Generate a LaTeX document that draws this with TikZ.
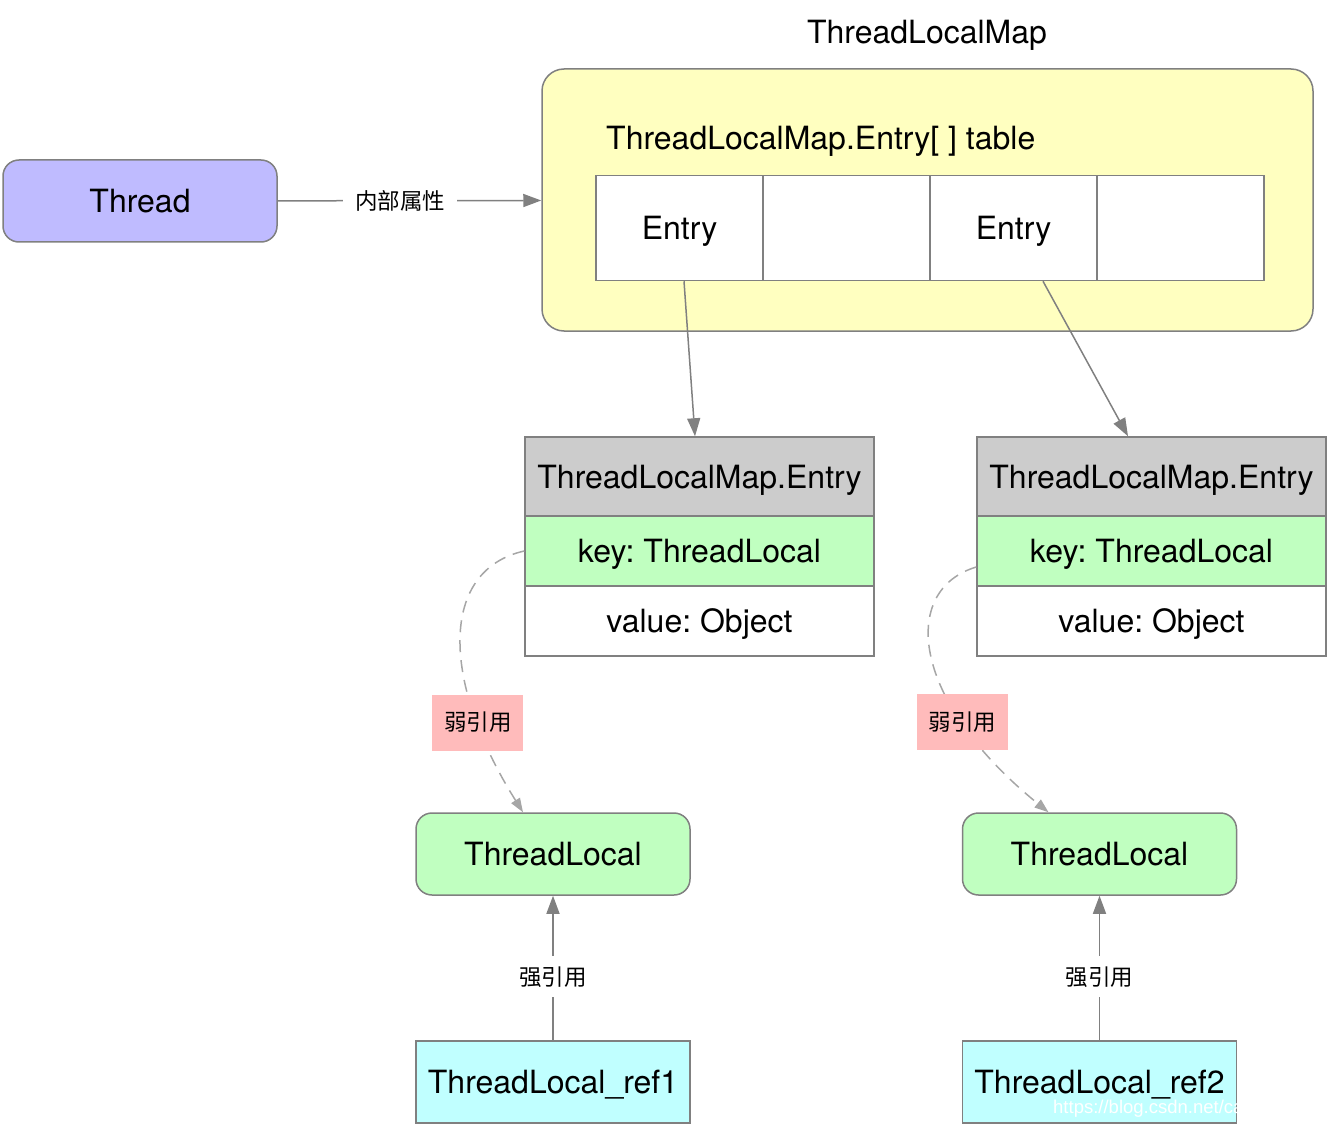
\documentclass[tikz,border=0pt]{standalone}
\usepackage{fontspec}
\setmainfont{TeX Gyre Heros}
\newfontfamily\cjk{Noto Sans CJK SC}
\newfontfamily\markfont{Liberation Sans}
\usetikzlibrary{arrows.meta,positioning}
\frenchspacing

\begin{document}
\begin{tikzpicture}[x=1pt,y=-1pt,
  big/.style={font=\fontsize{32}{38}\selectfont,text height=23pt,text depth=0pt},
  small/.style={font=\cjk\fontsize{22.5}{27}\selectfont},
  frame/.style={draw=linecolor,line width=1.5pt,inner sep=0pt,big},
  roundbox/.style={frame,rounded corners=16pt,minimum width=274pt,minimum height=82pt},
  cell/.style={frame,fill=white,minimum width=167pt,minimum height=105pt},
  row/.style={frame,minimum width=349pt,minimum height=70pt},
  arrow/.style={draw=linecolor,line width=1.5pt,-{Triangle[length=18pt,width=13pt]}},
  weak/.style={draw=dashcolor,line width=1.5pt,dash pattern=on 12pt off 8pt,-{Triangle[length=14pt,width=10pt]}},
  weaklabel/.style={fill=weakfill,small,minimum width=91pt,minimum height=56pt,inner sep=0pt}]
\definecolor{linecolor}{RGB}{128,128,128} % lines and arrows
\definecolor{dashcolor}{RGB}{166,166,166} % weak reference
\definecolor{threadfill}{RGB}{191,187,255}
\definecolor{mapfill}{RGB}{255,255,192}
\definecolor{headfill}{RGB}{204,204,204}
\definecolor{keyfill}{RGB}{192,255,192}
\definecolor{reffill}{RGB}{192,255,255}
\definecolor{weakfill}{RGB}{255,187,187}
\useasboundingbox (0,0) rectangle (1328,1126);

% thread and its map
\node[big] (title) at (927,32) {ThreadLocalMap};
\node[roundbox,fill=threadfill] (thread) at (140,201) {Thread};
\node[frame,fill=mapfill,rounded corners=22pt,minimum width=771pt,minimum height=262pt] (map) at (927.5,200) {};
\node[big,anchor=west,inner sep=0pt] (tablelabel) at (606,138) {ThreadLocalMap.Entry[ ] table};
\node[cell] (cell1) at (679.5,228) {Entry};
\node[cell] (cell2) at (846.5,228) {};
\node[cell] (cell3) at (1013.5,228) {Entry};
\node[cell] (cell4) at (1180.5,228) {};
\draw[arrow] (thread) -- node[pos=0.464,fill=white,small,inner sep=12pt] {内部属性} (map);

% left entry
\node[row,fill=headfill,minimum height=79pt] (head1) at (699.5,476.5) {ThreadLocalMap.Entry};
\node[row,fill=keyfill] (key1) at (699.5,551) {key: ThreadLocal};
\node[row,fill=white] (value1) at (699.5,621) {value: Object};
\draw[arrow] ([xshift=4.5pt]cell1.south) -- ([xshift=-4.5pt]head1.north);

% right entry
\node[row,fill=headfill,minimum height=79pt] (head2) at (1151.5,476.5) {ThreadLocalMap.Entry};
\node[row,fill=keyfill] (key2) at (1151.5,551) {key: ThreadLocal};
\node[row,fill=white] (value2) at (1151.5,621) {value: Object};
\draw[arrow] ([xshift=29.5pt]cell3.south) -- ([xshift=-23.5pt]head2.north);

% thread locals and their refs
\node[roundbox,fill=keyfill] (local1) at (553,854) {ThreadLocal};
\node[roundbox,fill=keyfill] (local2) at (1099.5,854) {ThreadLocal};
\node[frame,fill=reffill,minimum width=274pt,minimum height=82pt] (ref1) at (553,1082) {ThreadLocal\_ref1};
\node[frame,fill=reffill,minimum width=274pt,minimum height=82pt] (ref2) at (1099.5,1082) {ThreadLocal\_ref2};
\node[anchor=west,inner sep=0pt,text=white,font=\markfont\fontsize{18.5}{20}\selectfont] (watermark) at (1053,1109) {https://blog.csdn.net/caigu};

\draw[arrow] (ref1) -- node[pos=0.44,fill=white,small,inner sep=10pt] {强引用} (local1);
\draw[arrow] (ref2) -- node[pos=0.44,fill=white,small,inner sep=10pt] {强引用} (local2);

% weak references
\draw[weak] (key1.west) .. controls (440,570) and (440,680) .. node[pos=0.762,weaklabel] {弱引用} ([xshift=-30pt]local1.north);
\draw[weak] ([yshift=-16pt]key2.west) .. controls (900,590) and (910,700) .. node[pos=0.725,weaklabel] {弱引用} ([xshift=-51pt]local2.north);

\end{tikzpicture}
\end{document}
